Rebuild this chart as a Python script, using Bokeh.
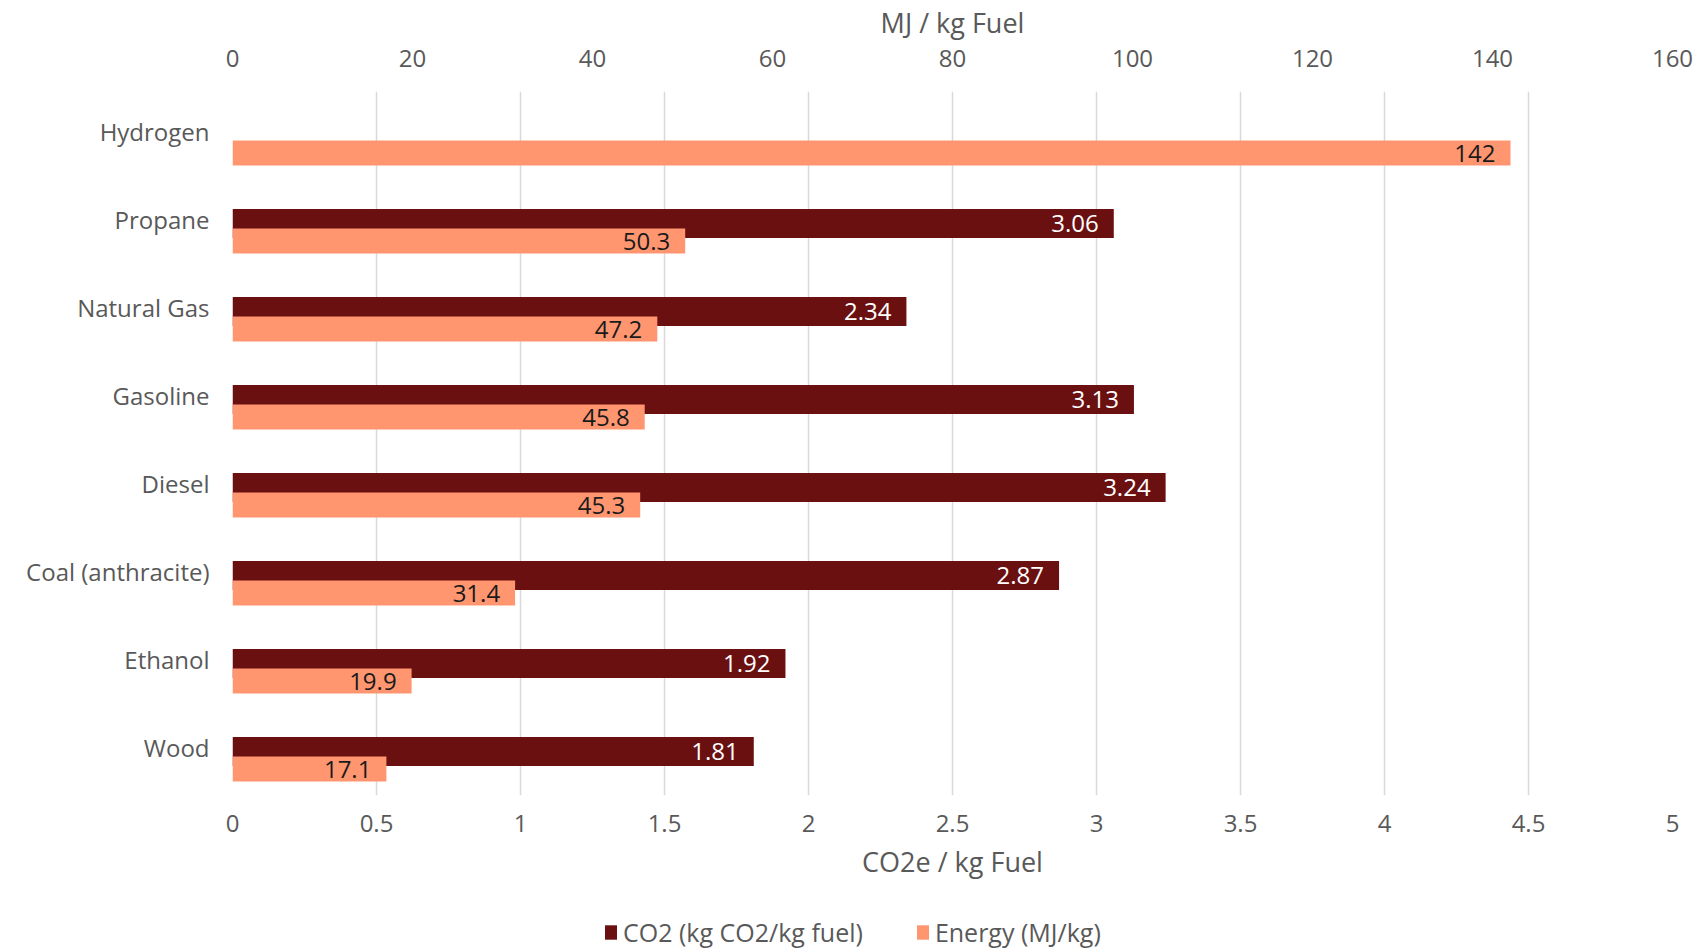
from bokeh.plotting import figure
from bokeh.layouts import column
from bokeh.models import (Range1d, LinearAxis, FixedTicker, ColumnDataSource,
                          Legend, LegendItem, NumeralTickFormatter)
from bokeh.core.properties import value
from bokeh.embed import file_html
from bokeh.resources import INLINE

# Fuels listed top to bottom
fuels = ["Hydrogen", "Propane", "Natural Gas", "Gasoline", "Diesel",
         "Coal (anthracite)", "Ethanol", "Wood"]
# kg CO2 per kg fuel (no value for hydrogen)
co2 = [None, 3.06, 2.34, 3.13, 3.24, 2.87, 1.92, 1.81]
# MJ per kg fuel
energy = [142, 50.3, 47.2, 45.8, 45.3, 31.4, 19.9, 17.1]

co2_ticks = [0, 0.5, 1, 1.5, 2, 2.5, 3, 3.5, 4, 4.5, 5]
energy_ticks = [0, 20, 40, 60, 80, 100, 120, 140, 160]

FONT = "Open Sans"
GREY = "#595959"
DARK_RED = "#6B1011"
SALMON = "#FF9670"

# row index of each fuel (0 = top row); the y range is flipped
rows = list(range(len(fuels)))
CO2_SHIFT = 0.04     # bar offsets inside a row, in row units
EN_SHIFT = 0.24

co2_src = ColumnDataSource(dict(
    y=[r + CO2_SHIFT for r, c in zip(rows, co2) if c is not None],
    val=[c for c in co2 if c is not None],
    lbl=[f"{c:g}" for c in co2 if c is not None],
))
en_src = ColumnDataSource(dict(
    y=[r + EN_SHIFT for r in rows],
    val=energy,
    lbl=[f"{e:g}" for e in energy],
))

p = figure(width=1707, height=900, output_backend="svg", toolbar_location=None,
           y_range=Range1d(len(fuels) - 0.46, -0.46),
           x_range=Range1d(0, 5),
           min_border_left=232, min_border_right=35,
           min_border_top=91, min_border_bottom=105)
p.extra_x_ranges = {"mj": Range1d(0, 160)}
p.outline_line_color = None

co2_r = p.hbar(y="y", right="val", left=0, height=0.33, source=co2_src,
               fill_color=DARK_RED, line_color=None)
en_r = p.hbar(y="y", right="val", left=0, height=0.284, source=en_src,
              fill_color=SALMON, line_color=None, x_range_name="mj")

p.text(x="val", y="y", text="lbl", source=co2_src, text_align="right",
       text_baseline="middle", x_offset=-15, text_color="white",
       text_font=value(FONT), text_font_size="24px")
p.text(x="val", y="y", text="lbl", source=en_src, text_align="right",
       text_baseline="middle", x_offset=-15, text_color="#1A1A1A",
       text_font=value(FONT), text_font_size="24px", x_range_name="mj")

# bottom axis: CO2e
xa = p.xaxis[0]
xa.ticker = FixedTicker(ticks=co2_ticks)
xa.formatter = NumeralTickFormatter(format="0.[0]")
xa.axis_label = "CO2e / kg Fuel"

# top axis: energy
top = LinearAxis(x_range_name="mj", ticker=FixedTicker(ticks=energy_ticks),
                 axis_label="MJ / kg Fuel")
p.add_layout(top, "above")

for ax in [xa, top]:
    ax.axis_line_color = None
    ax.major_tick_line_color = None
    ax.minor_tick_line_color = None
    ax.major_label_text_font = FONT
    ax.major_label_text_font_size = "24px"
    ax.major_label_text_color = GREY
    ax.axis_label_text_font = FONT
    ax.axis_label_text_font_size = "27px"
    ax.axis_label_text_font_style = "normal"
    ax.axis_label_text_color = GREY
xa.major_label_standoff = 13
xa.axis_label_standoff = 8
top.major_label_standoff = 19
top.axis_label_standoff = 6

ya = p.yaxis[0]
ya.ticker = FixedTicker(ticks=rows)
ya.major_label_overrides = {r: f for r, f in zip(rows, fuels)}
ya.axis_line_color = None
ya.major_tick_line_color = None
ya.minor_tick_line_color = None
ya.major_label_text_font = FONT
ya.major_label_text_font_size = "24px"
ya.major_label_text_color = GREY
ya.major_label_standoff = 17

p.ygrid.grid_line_color = None
p.xgrid.ticker = FixedTicker(ticks=co2_ticks)
p.xgrid.grid_line_color = "#D9D9D9"
p.xgrid.grid_line_width = 1.5

# legend strip under the chart; its key glyphs sit outside the strip's view.
# The column aligns this strip's frame with the chart frame (left edge at 232 px).
lf = figure(width=1707, height=49, output_backend="svg", toolbar_location=None,
            x_range=Range1d(0, 1), y_range=Range1d(0, 1),
            x_axis_location=None, y_axis_location=None,
            min_border_left=0, min_border_right=0,
            min_border_top=0, min_border_bottom=0)
lf.outline_line_color = None
lf.grid.grid_line_color = None
k_co2 = lf.hbar(y=[-5], left=[0], right=[1], height=0.5,
                fill_color=DARK_RED, line_color=None)
k_en = lf.hbar(y=[-5], left=[0], right=[1], height=0.5,
               fill_color=SALMON, line_color=None)

legend = Legend(items=[LegendItem(label="CO2 (kg CO2/kg fuel)", renderers=[k_co2]),
                       LegendItem(label="Energy (MJ/kg)", renderers=[k_en])],
                orientation="horizontal", location=(371, 0),
                glyph_width=15, glyph_height=18, spacing=52, padding=0, margin=0,
                label_standoff=5, border_line_color=None,
                background_fill_alpha=0,
                label_text_font=FONT, label_text_font_size="25px",
                label_text_color=GREY)
lf.add_layout(legend, "center")

open("out.html", "w").write(file_html(column(p, lf, spacing=0), INLINE))
